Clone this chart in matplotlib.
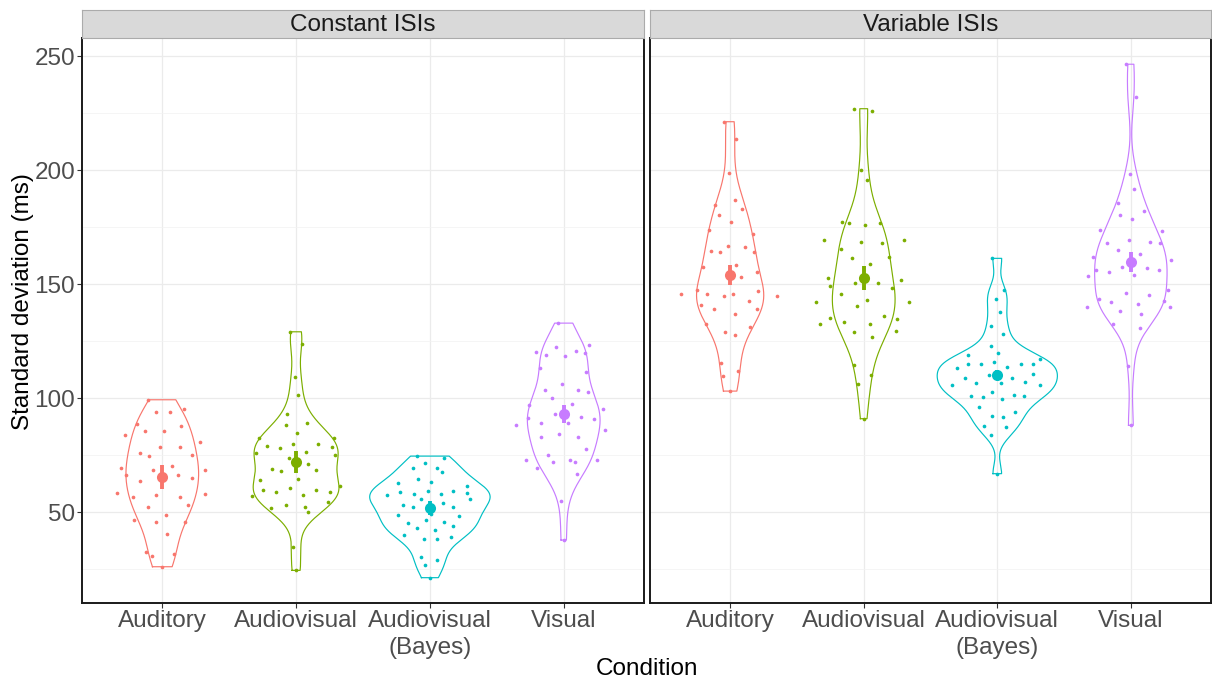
import numpy as np
import matplotlib
matplotlib.use("Agg")
import matplotlib.pyplot as plt
from matplotlib.ticker import MultipleLocator

plt.rcParams['font.family'] = ['Liberation Sans', 'DejaVu Sans']

conditions = ["Auditory", "Audiovisual", "Audiovisual\n(Bayes)", "Visual"]
facets = ["Constant ISIs", "Variable ISIs"]
colors = ["#F8766D", "#7CAE00", "#00BFC4", "#C77CFF"]

# per-participant SDs (ms) and their horizontal jitter, constant ISIs
const_aud = [99.4, 94.2, 94.2, 95.3, 88.7, 85.8, 85.5, 88.0, 83.9, 80.8, 78.9, 78.9, 76.0, 74.7, 75.3,
             69.3, 66.2, 68.4, 70.2, 66.4, 68.4, 64.9, 63.7, 58.5, 56.6, 57.6, 56.9, 58.0, 53.2, 52.5,
             48.7, 46.9, 45.6, 45.9, 40.4, 32.7, 30.7, 31.6, 26.2]
const_aud_jit = [-0.107, -0.045, 0.06, 0.16, -0.19, -0.13, 0.01, 0.14, -0.28, 0.28, -0.02, 0.13, -0.17, -0.10,
                 0.22, -0.31, -0.27, -0.07, 0.07, 0.12, 0.32, 0.22, -0.17, -0.34, -0.22, -0.045, 0.13, 0.32,
                 0.19, -0.107, 0.03, -0.21, -0.05, 0.17, 0.035, -0.12, -0.08, 0.085, 0.0]

const_av = [129.2, 124.0, 109.5, 101.3, 93.1, 88.2, 89.3, 84.9, 82.7, 82.6, 79.2, 78.1, 80.1, 80.0, 78.5,
            76.0, 73.8, 76.3, 75.3, 71.4, 69.2, 68.1, 68.7, 64.3, 64.5, 61.5, 57.0, 59.8, 58.9, 60.5,
            57.5, 59.9, 59.1, 52.0, 53.2, 52.3, 50.0, 54.4, 34.8, 24.6]
const_av_jit = [-0.047, 0.045, -0.007, 0.015, -0.067, -0.075, 0.08, 0.007, -0.28, 0.28, -0.22, -0.12, -0.022,
                0.16, 0.27, -0.30, -0.055, 0.072, 0.29, 0.087, -0.18, -0.11, 0.15, -0.27, 0.017, 0.33, -0.33,
                -0.25, -0.15, -0.047, 0.05, 0.15, 0.25, -0.19, -0.072, 0.067, 0.09, 0.24, -0.022, 0.0]

const_bayes = [74.7, 74.0, 71.6, 69.3, 69.4, 67.7, 63.0, 64.5, 63.2, 61.8, 57.7, 58.8, 57.9, 59.6, 57.9,
               59.2, 58.6, 55.8, 56.0, 53.2, 52.3, 54.1, 52.5, 48.8, 46.8, 48.4, 45.2, 43.3, 45.6, 43.9,
               39.9, 42.4, 38.5, 38.3, 39.3, 30.6, 29.3, 26.8, 21.4, 49.1]
const_bayes_jit = [-0.095, 0.107, -0.035, -0.125, 0.055, 0.092, -0.24, -0.09, 0.01, 0.28, -0.32, -0.22, -0.12,
                   -0.017, 0.08, 0.17, 0.28, -0.065, 0.30, -0.20, -0.125, 0.10, 0.17, -0.24, -0.03, 0.22,
                   -0.16, -0.095, 0.105, 0.17, -0.19, 0.035, -0.045, 0.05, 0.16, -0.07, 0.055, -0.04, 0.0, 0.01]

const_vis = [133.0, 123.5, 120.2, 119.0, 122.5, 118.6, 120.6, 119.9, 113.2, 111.7, 106.1, 103.5, 100.0,
             103.6, 102.6, 97.2, 97.4, 95.5, 91.4, 89.2, 93.3, 89.3, 92.0, 91.1, 88.5, 86.1, 83.0, 84.2,
             83.0, 77.9, 75.0, 73.2, 71.9, 73.2, 71.9, 72.8, 69.4, 67.0, 55.0, 37.9]
const_vis_jit = [-0.042, 0.19, -0.21, -0.13, -0.055, 0.012, 0.09, 0.16, -0.18, 0.17, -0.01, -0.14, -0.09,
                 0.11, 0.18, -0.26, 0.065, 0.29, -0.27, -0.17, -0.067, 0.03, 0.127, 0.23, -0.36, 0.31,
                 -0.17, -0.035, 0.11, 0.17, -0.12, -0.28, -0.077, 0.045, 0.085, 0.25, -0.2, 0.097, -0.017, 0.0]

# variable ISIs
var_aud = [221.3, 213.9, 198.8, 186.8, 184.6, 182.9, 180.4, 177.5, 173.7, 171.9, 164.6, 164.0, 166.7,
           166.5, 164.2, 157.5, 158.3, 153.2, 155.4, 145.6, 147.5, 145.9, 144.7, 145.7, 147.2, 145.0,
           140.8, 142.5, 139.0, 139.0, 136.8, 132.5, 131.4, 129.1, 127.9, 115.4, 112.0, 109.6, 103.2]
var_aud_jit = [-0.045, 0.042, -0.01, 0.037, -0.11, 0.092, -0.082, 0.005, -0.16, 0.17, -0.14, -0.077, -0.015,
               0.11, 0.18, -0.2, 0.047, 0.085, 0.2, -0.37, -0.25, -0.17, -0.047, 0.025, 0.21, 0.35, -0.22,
               0.14, -0.12, 0.2, 0.035, -0.18, 0.15, -0.04, 0.04, -0.07, 0.06, -0.055, 0.0]

var_av = [227.0, 225.9, 200.0, 195.9, 177.5, 176.8, 175.9, 177.0, 169.6, 168.7, 168.1, 169.3, 165.6,
          161.4, 162.1, 158.8, 152.8, 149.4, 150.7, 150.6, 151.8, 148.5, 142.4, 145.6, 143.0, 142.1,
          140.5, 132.5, 135.2, 133.3, 128.9, 132.6, 136.1, 134.6, 126.9, 129.5, 114.5, 110.1, 106.1, 91.1]
var_av_jit = [-0.072, 0.065, -0.017, 0.022, -0.16, -0.11, 0.007, 0.125, -0.30, -0.02, 0.137, 0.30, -0.17,
              -0.085, 0.19, 0.047, -0.27, -0.25, -0.067, 0.11, 0.28, 0.21, -0.36, -0.17, 0.025, 0.34, -0.05,
              -0.33, -0.25, -0.15, -0.075, 0.047, 0.15, 0.25, 0.062, 0.24, -0.072, 0.055, -0.045, 0.0]

var_bayes = [161.4, 147.7, 143.6, 138.0, 131.6, 128.1, 122.9, 119.9, 119.2, 116.1, 113.2, 115.2, 114.9,
             113.7, 115.2, 115.2, 117.1, 108.9, 110.2, 106.6, 109.1, 110.5, 105.7, 106.6, 107.0, 105.7,
             101.2, 100.7, 102.9, 99.9, 101.6, 101.2, 96.1, 92.5, 92.0, 93.9, 87.7, 87.4, 83.8, 67.0]
var_bayes_jit = [-0.04, 0.052, -0.012, 0.017, -0.05, 0.04, -0.05, 0.007, -0.22, -0.022, -0.3, -0.22, -0.125,
                 0.072, 0.18, 0.27, 0.32, -0.24, -0.06, 0.025, 0.11, 0.27, -0.34, -0.16, 0.21, 0.32, -0.2,
                 -0.11, -0.042, 0.035, 0.125, 0.2, -0.134, -0.042, 0.045, 0.13, -0.1, 0.067, -0.05, 0.0]

var_vis = [246.5, 232.3, 198.4, 192.0, 185.7, 180.3, 178.5, 182.2, 174.0, 173.2, 168.1, 164.9, 169.6,
           168.6, 168.0, 162.1, 163.3, 160.8, 156.3, 155.6, 157.5, 154.2, 157.3, 156.3, 153.6, 147.5,
           143.7, 142.1, 146.1, 141.2, 145.3, 142.8, 140.2, 138.3, 136.8, 140.0, 132.6, 130.7, 114.2, 88.2]
var_vis_jit = [-0.035, 0.037, -0.01, 0.025, -0.095, -0.085, 0.007, 0.095, -0.23, 0.23, -0.18, -0.1, -0.017,
               0.14, 0.22, -0.28, 0.067, 0.3, -0.26, -0.16, -0.07, 0.027, 0.12, 0.21, -0.32, 0.28, -0.24,
               -0.15, -0.04, 0.052, 0.137, 0.25, -0.33, -0.085, 0.075, 0.29, -0.13, 0.067, -0.022, 0.0]

# group means and error bar half-widths
const_means = [65.5, 72.1, 52.0, 93.1]
const_err = [5.3, 4.9, 3.0, 3.8]
var_means = [154.2, 152.8, 110.4, 159.8]
var_err = [4.5, 5.3, 2.0, 4.3]

panels = [
    ([const_aud, const_av, const_bayes, const_vis],
     [const_aud_jit, const_av_jit, const_bayes_jit, const_vis_jit], const_means, const_err),
    ([var_aud, var_av, var_bayes, var_vis],
     [var_aud_jit, var_av_jit, var_bayes_jit, var_vis_jit], var_means, var_err),
]


def density(vals, n=512):
    # gaussian kde with silverman (nrd0) bandwidth, trimmed to data range
    v = np.asarray(vals, dtype=float)
    q75, q25 = np.percentile(v, [75, 25])
    bw = 0.9 * min(v.std(ddof=1), (q75 - q25) / 1.34) * len(v) ** -0.2
    grid = np.linspace(v.min(), v.max(), n)
    d = np.exp(-0.5 * ((grid[:, None] - v[None, :]) / bw) ** 2).sum(axis=1)
    d /= len(v) * bw * np.sqrt(2 * np.pi)
    return grid, d


W, H = 1212, 684
FS = 17.5
fig = plt.figure(figsize=(W / 100, H / 100), dpi=100)

ax_boxes = [[82, 81, 562, 565], [650, 81, 561, 565]]
grey_txt = "#4D4D4D"

for p, (groups, jits, means, errs) in enumerate(panels):
    l, b, w, h = ax_boxes[p]
    ax = fig.add_axes([l / W, b / H, w / W, h / H])

    shapes = [density(g) for g in groups]
    dmax = max(d.max() for _, d in shapes)

    for i, ((grid, d), vals, jit, col) in enumerate(zip(shapes, groups, jits, colors)):
        x = i + 1
        half = 0.45 * d / dmax
        xs = np.concatenate([x - half, (x + half)[::-1], [x - half[0]]])
        ys = np.concatenate([grid, grid[::-1], [grid[0]]])
        ax.plot(xs, ys, color=col, lw=0.85, zorder=3)
        ax.scatter(x + np.asarray(jit), vals, s=7, color=col, lw=0, zorder=4)
        ax.plot([x, x], [means[i] - errs[i], means[i] + errs[i]], color=col, lw=2.8,
                solid_capstyle='butt', zorder=5)
        ax.plot(x, means[i], 'o', ms=8, color=col, mec='none', zorder=6)

    ax.set_xlim(0.4, 4.6)
    ax.set_ylim(10.3, 258)
    ax.set_xticks(range(1, 5))
    ax.set_xticklabels(conditions)
    for lab in ax.get_xticklabels():
        lab.set_linespacing(1.3)
    ax.yaxis.set_major_locator(MultipleLocator(50))
    ax.yaxis.set_minor_locator(MultipleLocator(25))
    ax.grid(which='major', color='#EBEBEB', lw=0.9, zorder=0)
    ax.grid(which='minor', axis='y', color='#F2F2F2', lw=0.5, zorder=0)
    ax.set_axisbelow(True)
    ax.tick_params(axis='x', which='major', length=3.5, width=0.8, color='#333333',
                   labelsize=FS, labelcolor=grey_txt, pad=1.5)
    ax.tick_params(axis='y', which='minor', length=0)
    if p == 0:
        ax.tick_params(axis='y', which='major', length=3.5, width=0.8, color='#333333',
                       labelsize=FS, labelcolor=grey_txt, pad=1.5)
    else:
        ax.tick_params(axis='y', which='major', length=0, labelleft=False)
    for s in ax.spines.values():
        s.set_color('#1A1A1A')
        s.set_linewidth(1.4)

    # facet strip
    sx = fig.add_axes([l / W, 646 / H, w / W, 28 / H])
    sx.set_facecolor('#D9D9D9')
    sx.set_xticks([])
    sx.set_yticks([])
    for s in sx.spines.values():
        s.set_color('#ABABAB')
        s.set_linewidth(0.8)
    sx.text(0.5, 0.45, facets[p], ha='center', va='center', fontsize=FS, color='#1A1A1A',
            transform=sx.transAxes)

fig.text(23 / W, (684 - 302) / H, "Standard deviation (ms)", rotation=90, ha='center', va='center',
         fontsize=FS, color='black')
fig.text(647 / W, (684 - 669) / H, "Condition", ha='center', va='center', fontsize=FS, color='black')

fig.savefig("out.png", dpi=100)
